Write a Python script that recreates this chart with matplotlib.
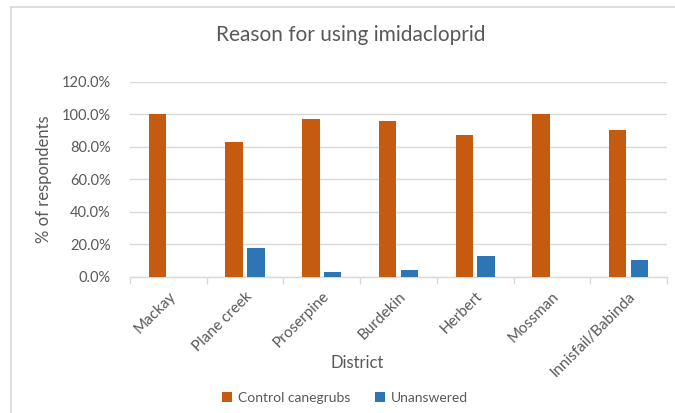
import numpy as np
import matplotlib
matplotlib.use("Agg")
import matplotlib.pyplot as plt
from matplotlib.lines import Line2D
from matplotlib.ticker import FuncFormatter, MultipleLocator

districts = ["Mackay", "Plane creek", "Proserpine", "Burdekin", "Herbert", "Mossman", "Innisfail/Babinda"]
control_canegrubs = [100.0, 82.6, 97.1, 95.8, 87.5, 100.0, 90.0]
unanswered = [0.0, 17.4, 2.9, 4.2, 12.5, 0.0, 10.0]
series_names = ["Control canegrubs", "Unanswered"]

plt.rcParams["font.family"] = ["Lato", "DejaVu Sans"]
text_color = "#595959"
grid_color = "#D9D9D9"

fig = plt.figure(figsize=(6.75, 4.13), dpi=100)
ax = fig.add_axes([130 / 675, 1 - 276.7 / 413, 537 / 675, 195 / 413])

x = np.arange(len(districts))
width = 0.228
offset = 0.142
ax.bar(x - offset, np.array(control_canegrubs) / 100, width, color="#C55A11",
       label=series_names[0], zorder=3)
ax.bar(x + offset, np.array(unanswered) / 100, width, color="#2E75B6",
       label=series_names[1], zorder=3)

ax.set_xlim(-0.5, len(districts) - 0.5)
ax.set_ylim(0, 1.2)
ax.yaxis.set_major_locator(MultipleLocator(0.2))
ax.yaxis.set_major_formatter(FuncFormatter(lambda v, _: f"{v * 100:.1f}%"))
ax.grid(axis="y", color=grid_color, linewidth=1.0, zorder=0)

for side in ["top", "right", "left"]:
    ax.spines[side].set_visible(False)
ax.spines["bottom"].set_color(grid_color)
ax.spines["bottom"].set_linewidth(1.0)

# category boundary ticks on the x axis, labels at the centres
ax.set_xticks(np.arange(len(districts) + 1) - 0.5)
ax.set_xticklabels([])
ax.set_xticks(x, minor=True)
ax.set_xticklabels(districts, minor=True, rotation=45, ha="right",
                   rotation_mode="anchor", fontsize=11, color=text_color)
ax.tick_params(axis="x", which="major", length=5, color=grid_color, width=1.0)
ax.tick_params(axis="x", which="minor", length=0, pad=9)
ax.tick_params(axis="y", length=0, pad=14, labelsize=10.5, labelcolor=text_color)

ax.set_ylabel("% of respondents", fontsize=12, color=text_color, labelpad=7)
fig.text(357 / 675, 1 - 363 / 413, "District", fontsize=12, color=text_color,
         ha="center", va="center")
fig.text(351 / 675, 1 - 35 / 413, "Reason for using imidacloprid", fontsize=15,
         color=text_color, ha="center", va="center")

leg = fig.legend(loc="center", bbox_to_anchor=(345 / 675, 1 - 398 / 413), ncol=2,
                 frameon=False, fontsize=10, handlelength=0.7, handleheight=0.7,
                 handletextpad=0.4, columnspacing=1.8)
for t in leg.get_texts():
    t.set_color(text_color)

# chart area border
fig.add_artist(Line2D([11 / 675, 11 / 675], [0, 1 - 6.5 / 413], transform=fig.transFigure,
                      color=grid_color, linewidth=1.2))
fig.add_artist(Line2D([11 / 675, 1], [1 - 6.5 / 413, 1 - 6.5 / 413], transform=fig.transFigure,
                      color=grid_color, linewidth=1.2))

fig.savefig("out.png", dpi=100)
